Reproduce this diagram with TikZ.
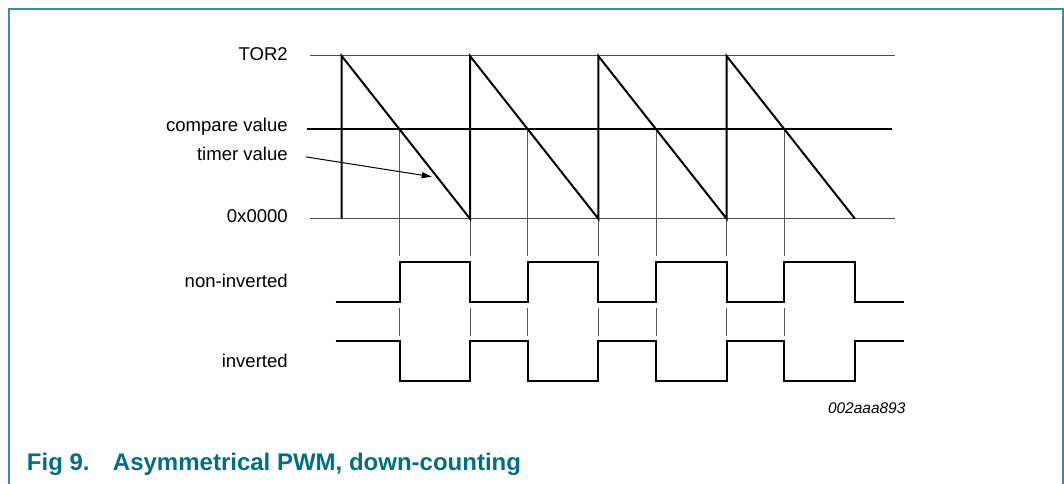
\documentclass[tikz,border=0pt]{standalone}
\usepackage{fontspec}
\setmainfont{Liberation Sans}
\usetikzlibrary{arrows.meta}
\definecolor{capteal}{RGB}{0,110,135}
\definecolor{frameteal}{RGB}{58,143,160}
\tikzset{
  level/.style={line width=0.75pt, draw=black!70},
  tick/.style={line width=0.75pt, draw=black!65},
  wave/.style={line width=1.5pt, line join=miter},
  lbl/.style={anchor=base east, inner sep=0pt, font=\fontsize{13.9}{16}\selectfont},
}
\begin{document}
\begin{tikzpicture}[x=0.75pt, y=-0.75pt]
      \def\dx{128.3};   % one timer period
      \def\cx{57.8};    % reload to compare match
      \def\xo{341.7};   % first reload
      \useasboundingbox (0,0) rectangle (1064,484);
      %
      \draw[frameteal, line width=1.5pt] (9,484) -- (9,9) -- (1062.5,9) -- (1062.5,484);   % frame
      %
      \node[lbl] (tor) at (288,60.7) {TOR2};
      \node[lbl] (cmp) at (288,132) {compare value};
      \node[lbl] (tv) at (288,160.7) {timer value};
      \node[lbl] (zero) at (288,222.7) {0x0000};
      \node[lbl] (noninv) at (288,288) {non-inverted};
      \node[lbl] (inv) at (288,368) {inverted};
      %
      \draw[level] (310,56) -- (895,56);         % TOR2 level
      \draw[level] (310,218.7) -- (895,218.7);   % 0x0000 level
      %
      \foreach \i in {0,...,3} {
        \draw[tick] ({\xo+\i*\dx+\cx},129.3) -- ({\xo+\i*\dx+\cx},256);
        \draw[tick] ({\xo+\i*\dx+\cx},307.7) -- ({\xo+\i*\dx+\cx},335.7);
      }
      \foreach \i in {1,2,3} {
        \draw[tick] ({\xo+\i*\dx},218.7) -- ({\xo+\i*\dx},256);
        \draw[tick] ({\xo+\i*\dx},307.7) -- ({\xo+\i*\dx},335.7);
      }
      %
      \draw[wave] (307,129.3) -- (892,129.3);    % compare value
      \draw[wave] (\xo,218.7) -- (\xo,56)
        \foreach \i in {1,2,3} { -- ({\xo+\i*\dx},218.7) -- ({\xo+\i*\dx},56) }
        -- ({\xo+4*\dx},218.7);                  % timer value
      %
      \draw[wave] (335.7,302.3)
        \foreach \i in {0,...,3} { -- ({\xo+\i*\dx+\cx},302.3) -- ++(0,-40)
          -- ({\xo+(\i+1)*\dx},262.3) -- ++(0,40) } -- (904,302.3);   % non-inverted
      \draw[wave] (335.7,341)
        \foreach \i in {0,...,3} { -- ({\xo+\i*\dx+\cx},341) -- ++(0,40)
          -- ({\xo+(\i+1)*\dx},381) -- ++(0,-40) } -- (904,341);      % inverted
      %
      \coordinate (tvtip) at (431.7,176.7);
      \draw[line width=0.75pt, -{Triangle[length=7.5pt,width=4.5pt]}, shorten <=13.5pt] (tv.east) -- (tvtip);
      %
      \node[anchor=base east, inner sep=0pt, font=\fontsize{11.6}{14}\selectfont\itshape] (figid) at (905.7,414) {002aaa893};
      \node[anchor=base west, inner sep=0pt, text=capteal, font=\fontsize{18}{22}\selectfont\bfseries] (caption) at (26.7,470.7) {Fig 9.\hspace*{17.5pt}Asymmetrical PWM, down-counting};
    \end{tikzpicture}
\end{document}
